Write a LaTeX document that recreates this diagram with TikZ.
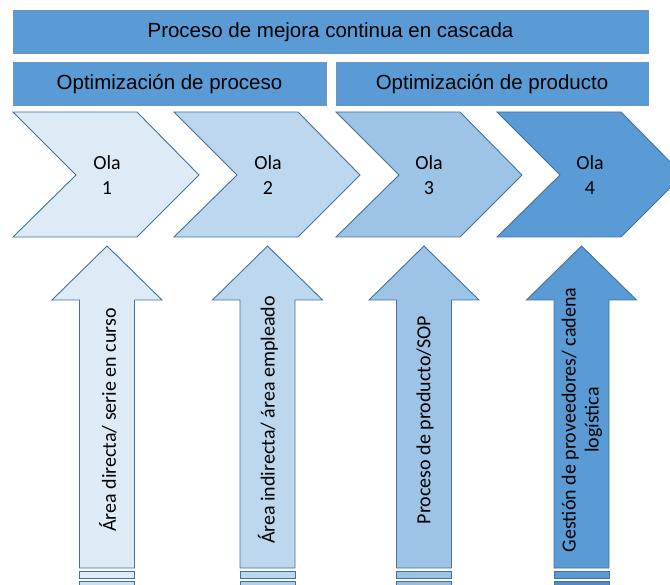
\documentclass[tikz,border=0pt]{standalone}
\usepackage{fontspec}
\setmainfont{Carlito}
\newfontfamily\arialfont{Liberation Sans}
\usepackage{xcolor}
\definecolor{olaA}{HTML}{DEEBF7}
\definecolor{olaB}{HTML}{BDD7EE}
\definecolor{olaC}{HTML}{9DC3E6}
\definecolor{olaD}{HTML}{5B9BD5}
\definecolor{borde}{HTML}{41719C}

\begin{document}
\begin{tikzpicture}[x=1pt,y=-1pt,
  banner/.style={fill=olaD,draw=borde!75!white,line width=0.9pt},
  forma/.style={draw=borde,line width=0.9pt,line join=miter},
  bantext/.style={font=\arialfont\fontsize{20.5}{23}\selectfont,inner sep=0},
  olatext/.style={font=\fontsize{20}{25}\selectfont,align=center,inner sep=0},
  flechatext/.style={font=\fontsize{20}{23}\selectfont,align=center,rotate=90,inner sep=0}]
\useasboundingbox (0,0) rectangle (670,585);
\clip (0,0) rectangle (670,585);
% banners
\draw[banner] (13,10) rectangle (648,53);
\node[bantext] (cascada) at (330.5,32) {Proceso de mejora continua en cascada};
\draw[banner] (13,62) rectangle (326,105);
\node[bantext] (optproceso) at (169.5,84) {Optimización de proceso};
\draw[banner] (336,62) rectangle (648,105);
\node[bantext] (optproducto) at (492,84) {Optimización de producto};
% olas
\draw[forma,fill=olaA] (13,112) -- (137,112) -- (199,175) -- (137,237) -- (13,237) -- (76,175) -- cycle;
\node[olatext] (ola1) at (107,175) {Ola\\1};
\draw[forma,fill=olaB] (174,112) -- (298,112) -- (360,175) -- (298,237) -- (174,237) -- (237,175) -- cycle;
\node[olatext] (ola2) at (268,175) {Ola\\2};
\draw[forma,fill=olaC] (336,112) -- (460,112) -- (522,175) -- (460,237) -- (336,237) -- (399,175) -- cycle;
\node[olatext] (ola3) at (429,175) {Ola\\3};
\draw[forma,fill=olaD] (497,112) -- (621,112) -- (683,175) -- (621,237) -- (497,237) -- (560,175) -- cycle;
\node[olatext] (ola4) at (590,175) {Ola\\4};
% flechas
\draw[forma,fill=olaA] (107,246) -- (162,300) -- (134.5,300) -- (134.5,568) -- (79.5,568) -- (79.5,300) -- (52,300) -- cycle;
\draw[forma,fill=olaA] (79.5,571) rectangle (134.5,578);
\draw[forma,fill=olaA!85!olaD] (79.5,581) rectangle (134.5,592);
\node[flechatext] (area1) at (108,420) {Área directa/ serie en curso};
\draw[forma,fill=olaB] (267.5,246) -- (322.5,300) -- (295,300) -- (295,568) -- (240,568) -- (240,300) -- (212.5,300) -- cycle;
\draw[forma,fill=olaB] (240,571) rectangle (295,578);
\draw[forma,fill=olaB!85!olaD] (240,581) rectangle (295,592);
\node[flechatext] (area2) at (268,420) {Área indirecta/ área empleado};
\draw[forma,fill=olaC] (424,246) -- (479,300) -- (451.5,300) -- (451.5,568) -- (396.5,568) -- (396.5,300) -- (369,300) -- cycle;
\draw[forma,fill=olaC] (396.5,571) rectangle (451.5,578);
\draw[forma,fill=olaC!85!olaD] (396.5,581) rectangle (451.5,592);
\node[flechatext] (area3) at (425,420) {Proceso de producto/SOP};
\draw[forma,fill=olaD] (581.5,246) -- (636.5,300) -- (609,300) -- (609,568) -- (554,568) -- (554,300) -- (526.5,300) -- cycle;
\draw[forma,fill=olaD] (554,571) rectangle (609,578);
\draw[forma,fill=olaD!90!black] (554,581) rectangle (609,592);
\node[flechatext] (area4) at (582,420) {Gestión de proveedores/ cadena\\logística};
\end{tikzpicture}
\end{document}
